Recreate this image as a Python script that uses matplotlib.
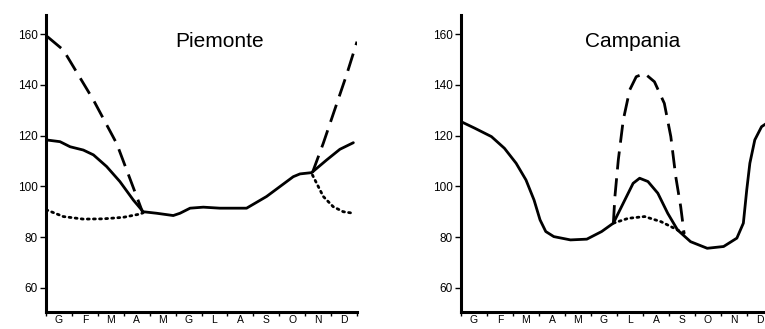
import matplotlib.pyplot as plt
import numpy as np

plt.rcParams['font.family'] = ['Liberation Sans', 'DejaVu Sans']

months = ['G', 'F', 'M', 'A', 'M', 'G', 'L', 'A', 'S', 'O', 'N', 'D']
yticks = [60, 80, 100, 120, 140, 160]

# Piemonte (x in months, 0 = start of Jan)
pie_solid_x = [0.0, 0.54, 0.93, 1.44, 1.83, 2.34, 2.85, 3.37, 3.75, 4.27, 4.91, 5.17, 5.56, 6.07, 6.71, 7.74, 8.51, 9.54, 9.8, 10.25, 10.83, 11.34, 11.86]
pie_solid_y = [118.3, 117.6, 115.6, 114.3, 112.4, 107.8, 101.9, 94.6, 90.0, 89.4, 88.5, 89.4, 91.4, 91.8, 91.4, 91.4, 96.0, 103.8, 104.9, 105.4, 110.4, 114.6, 117.2]
pie_dash1_x = [0.05, 0.67, 1.83, 2.73, 3.72]
pie_dash1_y = [159.0, 153.7, 134.0, 116.8, 90.0]
pie_dash2_x = [10.28, 10.7, 11.1, 11.6, 12.0]
pie_dash2_y = [105.4, 117.0, 129.0, 144.0, 157.0]
pie_dot1_x = [0.0, 0.67, 1.44, 2.21, 2.98, 3.63, 3.75]
pie_dot1_y = [90.8, 88.1, 87.1, 87.2, 87.8, 89.1, 89.6]
pie_dot2_x = [10.28, 10.7, 11.08, 11.47, 11.86]
pie_dot2_y = [104.5, 96.0, 92.0, 90.0, 89.4]

# Campania
cam_solid_x = [0.0, 0.53, 1.17, 1.67, 2.12, 2.5, 2.81, 3.04, 3.26, 3.57, 4.21, 4.84, 5.41, 5.86, 6.3, 6.62, 6.87, 7.19, 7.57, 7.95, 8.33, 8.83, 9.47, 10.1, 10.61, 10.86, 10.99, 11.11, 11.3, 11.56, 12.0]
cam_solid_y = [125.5, 122.9, 119.6, 115.0, 109.1, 102.5, 94.6, 86.8, 82.2, 80.2, 78.9, 79.2, 82.2, 85.5, 94.6, 101.2, 103.2, 101.9, 97.3, 89.4, 82.8, 78.2, 75.6, 76.3, 79.6, 85.5, 98.6, 109.1, 118.3, 123.5, 126.5]
cam_dash_x = [5.86, 5.92, 6.05, 6.24, 6.49, 6.74, 7.06, 7.44, 7.82, 8.07, 8.26, 8.45, 8.58]
cam_dash_y = [85.5, 96.0, 110.4, 126.1, 138.0, 143.2, 144.5, 141.2, 132.7, 119.6, 103.8, 92.0, 81.5]
cam_dot_x = [5.86, 6.43, 7.06, 7.69, 8.2, 8.58]
cam_dot_y = [85.5, 87.4, 88.1, 86.1, 83.5, 81.5]

fig = plt.figure(figsize=(7.65, 3.29), dpi=100)
ax1 = fig.add_axes([46/765, 17/329, 311/765, 297/329])
ax2 = fig.add_axes([461/765, 17/329, 312/765, 297/329])

lw = 2.0
dash = (6.5, 3.2)
dot = (0.7, 1.5)

def style(ax, title, tx):
    ax.set_xlim(0, 12)
    ax.set_ylim(50.5, 167.5)
    for s in ['top', 'right']:
        ax.spines[s].set_visible(False)
    for s in ['left', 'bottom']:
        ax.spines[s].set_linewidth(2.2)
    ax.set_yticks(yticks)
    ax.tick_params(axis='y', length=4, width=1, labelsize=8.5, pad=2)
    ax.set_xticks(np.arange(13))
    ax.set_xticklabels([])
    ax.tick_params(axis='x', which='major', length=3, width=1)
    ax.set_xticks(np.arange(12) + 0.5, minor=True)
    ax.set_xticklabels(months, minor=True)
    ax.tick_params(axis='x', which='minor', length=0, labelsize=7.5, pad=2)
    ax.text(tx, 157, title, fontsize=15, ha='center', va='center')

ax1.plot(pie_solid_x, pie_solid_y, color='black', lw=lw, solid_joinstyle='round', solid_capstyle='round')
ax1.plot(pie_dash1_x, pie_dash1_y, color='black', lw=lw, dashes=dash)
ax1.plot(pie_dash2_x, pie_dash2_y, color='black', lw=lw, dashes=dash)
ax1.plot(pie_dot1_x, pie_dot1_y, color='black', lw=lw, dashes=dot, dash_capstyle='round')
ax1.plot(pie_dot2_x, pie_dot2_y, color='black', lw=lw, dashes=dot, dash_capstyle='round')
style(ax1, 'Piemonte', 6.7)

ax2.plot(cam_solid_x, cam_solid_y, color='black', lw=lw, solid_joinstyle='round', solid_capstyle='round')
ax2.plot(cam_dash_x, cam_dash_y, color='black', lw=lw, dashes=dash)
ax2.plot(cam_dot_x, cam_dot_y, color='black', lw=lw, dashes=dot, dash_capstyle='round')
style(ax2, 'Campania', 6.6)

plt.savefig('out.png', dpi=100)
